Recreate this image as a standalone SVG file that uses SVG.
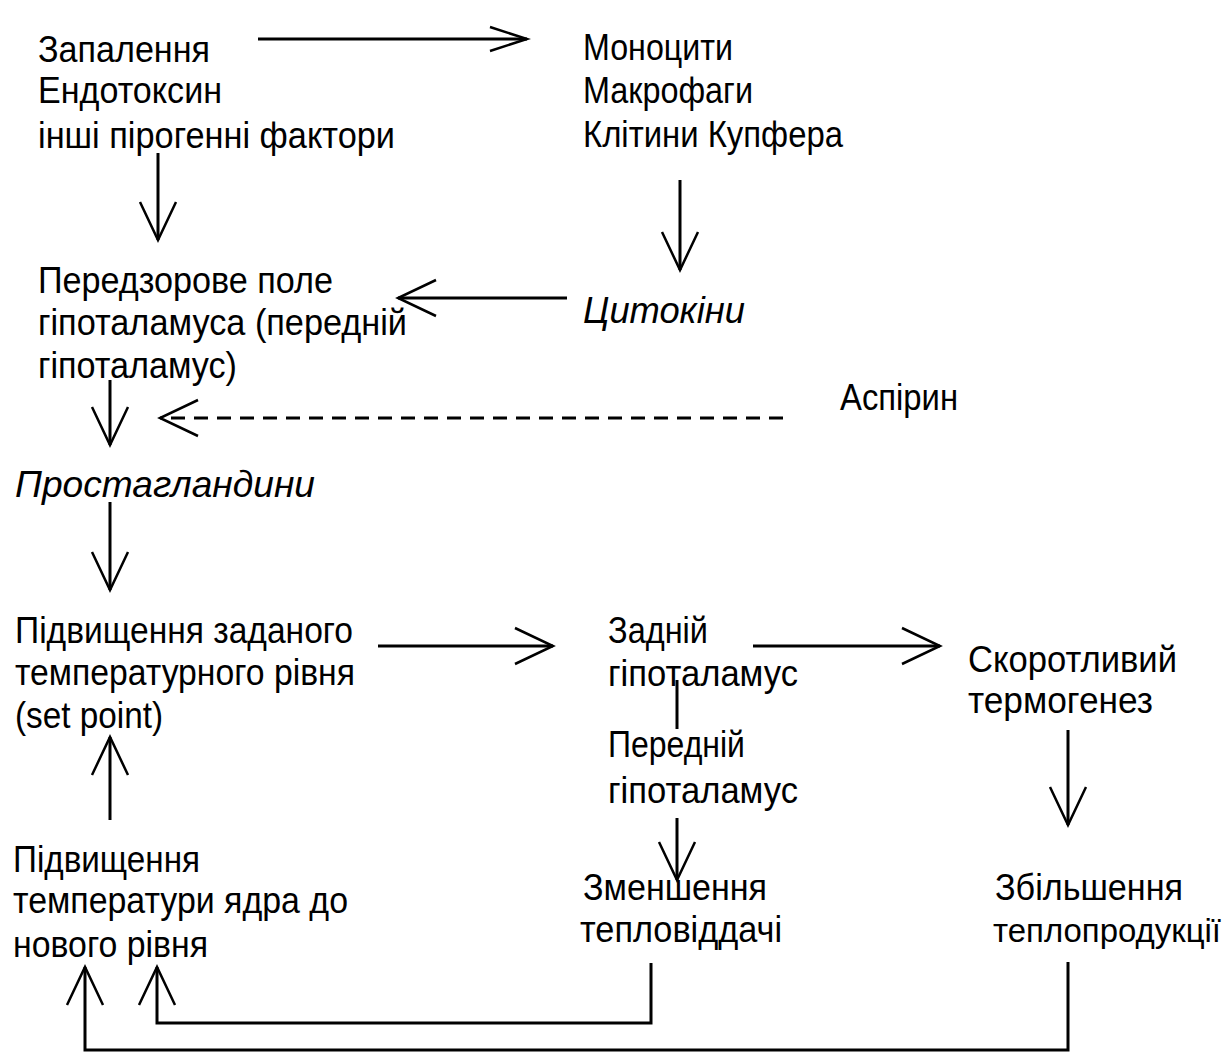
<svg xmlns="http://www.w3.org/2000/svg" width="1230" height="1052" viewBox="0 0 1230 1052">
<style>
text{font-family:"Liberation Sans",Arial,sans-serif;font-size:36px;fill:#000}
.it{font-style:italic}
.ln{fill:none;stroke:#000;stroke-width:3}
.dash{stroke-dasharray:14 9}
.hd{fill:none;stroke:#000;stroke-width:2.5;stroke-dasharray:none}
</style>
<defs>
<marker id="v" markerUnits="userSpaceOnUse" viewBox="-42 -21 46 42" refX="0" refY="0" markerWidth="46" markerHeight="42" orient="auto">
<path class="hd" d="M-38,-18 L0,0 L-38,18"/>
</marker>
<marker id="vs" markerUnits="userSpaceOnUse" viewBox="-42 -21 46 42" refX="0" refY="0" markerWidth="46" markerHeight="42" orient="auto">
<path class="hd" d="M-37,-12 L0,0 L-37,12"/>
</marker>
</defs>
<rect width="1230" height="1052" fill="#fff"/>

<g id="connectors">
<path class="ln" d="M258,39 H527" marker-end="url(#vs)"/>
<path class="ln" d="M158,153 V240" marker-end="url(#v)"/>
<path class="ln" d="M680,180 V270" marker-end="url(#v)"/>
<path class="ln" d="M567,298 H398" marker-end="url(#v)"/>
<path class="ln dash" d="M783,418 H160" marker-end="url(#v)"/>
<path class="ln" d="M110,380 V445" marker-end="url(#v)"/>
<path class="ln" d="M110,502 V590" marker-end="url(#v)"/>
<path class="ln" d="M378,646 H553" marker-end="url(#v)"/>
<path class="ln" d="M753,646 H940" marker-end="url(#v)"/>
<path class="ln" d="M110,820 V737" marker-end="url(#v)"/>
<path class="ln" d="M677,680 V729"/>
<path class="ln" d="M677,818 V880" marker-end="url(#v)"/>
<path class="ln" d="M1068,730 V825" marker-end="url(#v)"/>
<path class="ln" d="M651,963 V1023 H157 V967" marker-end="url(#v)"/>
<path class="ln" d="M1068,962 V1050 H85 V967" marker-end="url(#v)"/>
</g>

<g id="node-causes">
<text x="38" y="62" textLength="172" lengthAdjust="spacingAndGlyphs">Запалення</text>
<text x="38" y="103" textLength="184" lengthAdjust="spacingAndGlyphs">Ендотоксин</text>
<text x="38" y="148" textLength="357" lengthAdjust="spacingAndGlyphs">інші пірогенні фактори</text>
</g>
<g id="node-cells">
<text x="583" y="60" textLength="150" lengthAdjust="spacingAndGlyphs">Моноцити</text>
<text x="583" y="103" textLength="170" lengthAdjust="spacingAndGlyphs">Макрофаги</text>
<text x="583" y="147" textLength="260" lengthAdjust="spacingAndGlyphs">Клітини Купфера</text>
</g>
<g id="node-preoptic">
<text x="38" y="293" textLength="295" lengthAdjust="spacingAndGlyphs">Передзорове поле</text>
<text x="38" y="335" textLength="369" lengthAdjust="spacingAndGlyphs">гіпоталамуса (передній</text>
<text x="38" y="378" textLength="199" lengthAdjust="spacingAndGlyphs">гіпоталамус)</text>
</g>
<g id="node-cytokines">
<text class="it" x="583" y="323" textLength="162" lengthAdjust="spacingAndGlyphs">Цитокіни</text>
</g>
<g id="node-aspirin">
<text x="840" y="410" textLength="118" lengthAdjust="spacingAndGlyphs">Аспірин</text>
</g>
<g id="node-prostaglandins">
<text class="it" x="15" y="497" textLength="300" lengthAdjust="spacingAndGlyphs">Простагландини</text>
</g>
<g id="node-setpoint">
<text x="15" y="643" textLength="338" lengthAdjust="spacingAndGlyphs">Підвищення заданого</text>
<text x="15" y="685" textLength="340" lengthAdjust="spacingAndGlyphs">температурного рівня</text>
<text x="15" y="728" textLength="148" lengthAdjust="spacingAndGlyphs">(set point)</text>
</g>
<g id="node-posterior">
<text x="608" y="643" textLength="100" lengthAdjust="spacingAndGlyphs">Задній</text>
<text x="608" y="686" textLength="190" lengthAdjust="spacingAndGlyphs">гіпоталамус</text>
</g>
<g id="node-anterior">
<text x="608" y="757" textLength="137" lengthAdjust="spacingAndGlyphs">Передній</text>
<text x="608" y="803" textLength="190" lengthAdjust="spacingAndGlyphs">гіпоталамус</text>
</g>
<g id="node-shivering">
<text x="968" y="672" textLength="209" lengthAdjust="spacingAndGlyphs">Скоротливий</text>
<text x="968" y="713" textLength="185" lengthAdjust="spacingAndGlyphs">термогенез</text>
</g>
<g id="node-heatloss">
<text x="583" y="900" textLength="184" lengthAdjust="spacingAndGlyphs">Зменшення</text>
<text x="580" y="942" textLength="202" lengthAdjust="spacingAndGlyphs">тепловіддачі</text>
</g>
<g id="node-heatprod">
<text x="995" y="900" textLength="188" lengthAdjust="spacingAndGlyphs">Збільшення</text>
<text x="993" y="942" style="font-size:34px" textLength="228" lengthAdjust="spacingAndGlyphs">теплопродукції</text>
</g>
<g id="node-coretemp">
<text x="13" y="872" textLength="187" lengthAdjust="spacingAndGlyphs">Підвищення</text>
<text x="13" y="913" textLength="335" lengthAdjust="spacingAndGlyphs">температури ядра до</text>
<text x="13" y="957" textLength="195" lengthAdjust="spacingAndGlyphs">нового рівня</text>
</g>
</svg>
